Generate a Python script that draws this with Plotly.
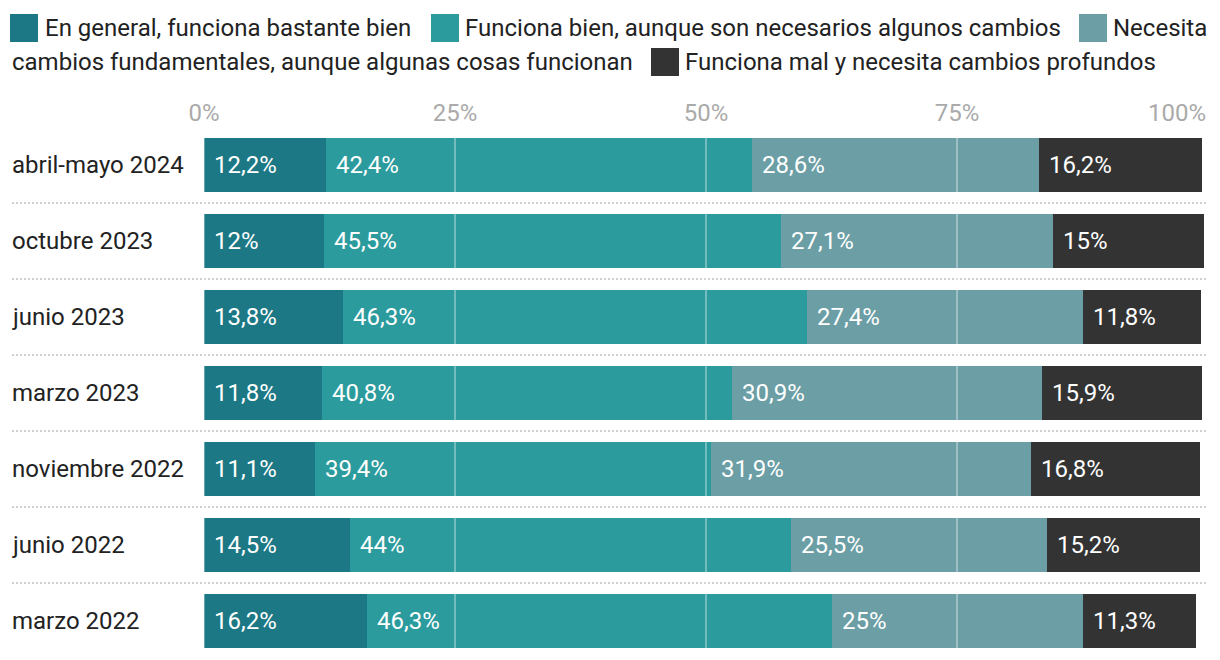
import plotly.graph_objects as go

categories = ["abril-mayo 2024", "octubre 2023", "junio 2023", "marzo 2023",
              "noviembre 2022", "junio 2022", "marzo 2022"]
series_names = ["En general, funciona bastante bien",
                "Funciona bien, aunque son necesarios algunos cambios",
                "Necesita cambios fundamentales, aunque algunas cosas funcionan",
                "Funciona mal y necesita cambios profundos"]
bien_general = [12.2, 12.0, 13.8, 11.8, 11.1, 14.5, 16.2]
bien_cambios = [42.4, 45.5, 46.3, 40.8, 39.4, 44.0, 46.3]
cambios_fund = [28.6, 27.1, 27.4, 30.9, 31.9, 25.5, 25.0]
mal_profundos = [16.2, 15.0, 11.8, 15.9, 16.8, 15.2, 11.3]
tick_vals = [0, 25, 50, 75, 100]

series = [bien_general, bien_cambios, cambios_fund, mal_profundos]
colors = ["#1b7884", "#2b9b9d", "#6b9ea5", "#333333"]

W, H = 1220, 660
ML, MR, MT, MB = 204, 12, 127, 1
PW, PH = W - ML - MR, H - MT - MB
FS = 24


def px_x(p):
    return (p - ML) / PW


def px_y(p):
    return (H - MB - p) / PH


def fmt(v):
    return f"{v:g}".replace(".", ",") + "%"


FONT = "Roboto"
fig = go.Figure()
for name, vals, col in zip(series_names, series, colors):
    fig.add_trace(go.Bar(
        y=categories, x=vals, name=name, orientation="h",
        marker=dict(color=col, line=dict(width=0)),
        showlegend=False, hoverinfo="x+name",
    ))

annotations = []
# value labels inside segments
for i, cat in enumerate(categories):
    base = 0.0
    for vals in series:
        v = vals[i]
        annotations.append(dict(
            x=base, y=cat, xref="x", yref="y", text=fmt(v), showarrow=False,
            xanchor="left", yanchor="middle", xshift=8,
            font=dict(family=FONT, size=FS, color="white")))
        base += v
# category labels, left aligned
for cat in categories:
    annotations.append(dict(
        x=px_x(10), y=cat, xref="paper", yref="y", text=cat, showarrow=False,
        xanchor="left", yanchor="middle",
        font=dict(family=FONT, size=FS, color="#222222")))

# last tick label, right aligned to the plot edge
annotations.append(dict(
    x=tick_vals[-1], y=1, xref="x", yref="paper", text=f"{tick_vals[-1]}%",
    showarrow=False, xanchor="right", yanchor="bottom", yshift=-2,
    font=dict(family=FONT, size=FS, color="#aaaaaa")))

# manual legend (wrapping mid-entry as in original)
legend_items = [
    (10, 28, 43, series_names[0], colors[0]),
    (431, 28, 463, series_names[1], colors[1]),
    (1079, 28, 1111, "Necesita", colors[2]),
    (651, 62, 683, "Funciona mal y necesita cambios profundos", colors[3]),
]
shapes = []
for sx, cy, tx, txt, col in legend_items:
    shapes.append(dict(type="rect", xref="paper", yref="paper",
                       x0=px_x(sx), x1=px_x(sx + 28), y0=px_y(cy + 14), y1=px_y(cy - 14),
                       fillcolor=col, line=dict(width=0)))
    annotations.append(dict(x=px_x(tx), y=px_y(cy), xref="paper", yref="paper",
                            text=txt, showarrow=False, xanchor="left", yanchor="middle",
                            font=dict(family=FONT, size=FS, color="#222222")))
annotations.append(dict(x=px_x(10), y=px_y(62), xref="paper", yref="paper",
                        text="cambios fundamentales, aunque algunas cosas funcionan",
                        showarrow=False, xanchor="left", yanchor="middle",
                        font=dict(family=FONT, size=FS, color="#222222")))

# dotted row separators
for i in range(len(categories) - 1):
    shapes.append(dict(type="line", xref="paper", yref="y",
                       x0=px_x(12), x1=1.0, y0=i + 0.5, y1=i + 0.5,
                       line=dict(color="#cfcfcf", width=2, dash="2px,2px")))

# gridlines drawn above the bars
for v in tick_vals:
    shapes.append(dict(type="line", xref="x", yref="paper", x0=v, x1=v, y0=0, y1=1,
                       layer="above",
                       line=dict(color="rgba(255,255,255,0.45)", width=1.5)))

fig.update_layout(
    width=W, height=H, barmode="stack", bargap=0.29,
    margin=dict(l=ML, r=MR, t=MT, b=MB, pad=0),
    paper_bgcolor="white", plot_bgcolor="white",
    font=dict(family=FONT, size=FS, color="#222222"),
    annotations=annotations, shapes=shapes,
    xaxis=dict(side="top", range=[0, 100], tickmode="array", tickvals=tick_vals,
               ticktext=[f"{v}%" if v != tick_vals[-1] else "" for v in tick_vals],
               tickfont=dict(family=FONT, size=FS, color="#aaaaaa"),
               showgrid=False, zeroline=False, showline=False, ticks="",
               fixedrange=True),
    yaxis=dict(categoryorder="array", categoryarray=categories, autorange="reversed",
               showticklabels=False, showgrid=False, zeroline=False, ticks="",
               fixedrange=True),
)

fig.write_html("out.html", config={"displayModeBar": False},
               post_script="document.body.style.margin='0';")
